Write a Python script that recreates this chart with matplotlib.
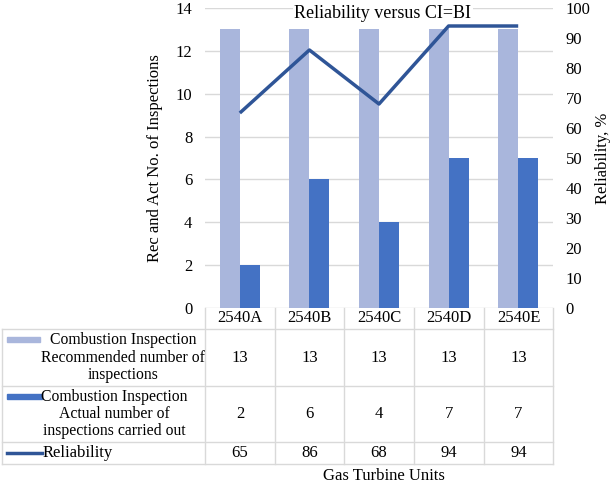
import matplotlib
matplotlib.use("Agg")
import matplotlib.pyplot as plt
from matplotlib.lines import Line2D
from matplotlib.patches import Rectangle

plt.rcParams['font.family'] = ['Liberation Serif', 'DejaVu Serif']

units = ["2540A", "2540B", "2540C", "2540D", "2540E"]
recommended = [13, 13, 13, 13, 13]
actual = [2, 6, 4, 7, 7]
reliability = [65, 86, 68, 94, 94]

row_labels = [
    "Combustion Inspection\nRecommended number of\ninspections",
    "Combustion Inspection\nActual number of\ninspections carried out",
    "Reliability",
]

c_light = "#A9B6DC"
c_dark = "#4472C4"
c_line = "#2F5597"
c_grid = "#D9D9D9"
fs = 12
fs_lab = 11.3

W, H = 612, 486
fig = plt.figure(figsize=(W / 100, H / 100), dpi=100)


def fx(x):
    return x / W


def fy(y):
    return 1 - y / H


L, R, T, B = 205, 553, 8, 308
ax = fig.add_axes([fx(L), fy(B), fx(R) - fx(L), fy(T) - fy(B)])
ax2 = ax.twinx()

xs = list(range(len(units)))
bw = 0.287
ax.bar([x - bw / 2 for x in xs], recommended, width=bw, color=c_light, zorder=2)
ax.bar([x + bw / 2 for x in xs], actual, width=bw, color=c_dark, zorder=2)
ax2.plot(xs, reliability, color=c_line, lw=2.5, solid_capstyle='butt', zorder=3)

ax.set_xlim(-0.5, len(units) - 0.5)
ax.set_ylim(0, 14)
ax.set_yticks(range(0, 15, 2))
ax2.set_ylim(0, 100)
ax2.set_yticks(range(0, 101, 10))
ax.set_xticks([])
ax.grid(axis='y', color=c_grid, lw=1, zorder=0)
ax.set_axisbelow(True)
for a in (ax, ax2):
    for s in a.spines.values():
        s.set_visible(False)
    a.tick_params(length=0, labelsize=fs, colors='black')
ax.tick_params(axis='y', pad=9)
ax2.tick_params(axis='y', pad=9)

fig.text(fx(155), fy((T + B) / 2), "Rec and Act No. of Inspections", rotation=90,
         ha='center', va='center', fontsize=fs)
fig.text(fx(603), fy((T + B) / 2), "Reliability, %", rotation=90,
         ha='center', va='center', fontsize=fs)

fig.text(fx((L + R) / 2 + 4), fy(13), "Reliability versus CI=BI", ha='center', va='center',
         fontsize=13, bbox=dict(facecolor='white', edgecolor='none', pad=1))

# table
cols = [205, 275, 344, 414, 484, 553]
rows = [308, 329, 386, 442, 464]


def hline(y, x0, x1):
    fig.add_artist(Line2D([fx(x0), fx(x1)], [fy(y), fy(y)], color=c_grid, lw=1))


def vline(x, y0, y1):
    fig.add_artist(Line2D([fx(x), fx(x)], [fy(y0), fy(y1)], color=c_grid, lw=1))


for y in rows[1:]:
    hline(y, 2, 553)
for x in cols:
    vline(x, 308, 464)
vline(2, 329, 464)

for i, u in enumerate(units):
    cx = (cols[i] + cols[i + 1]) / 2
    fig.text(fx(cx), fy((rows[0] + rows[1]) / 2), u, ha='center', va='center', fontsize=fs)
    for r, vals in enumerate([recommended, actual, reliability]):
        cy = (rows[r + 1] + rows[r + 2]) / 2
        fig.text(fx(cx), fy(cy), str(vals[i]), ha='center', va='center', fontsize=fs)

# legend keys and row labels
fig.add_artist(Rectangle((fx(7), fy(342)), fx(40) - fx(7), fy(337) - fy(342), color=c_light,
                         transform=fig.transFigure))
fig.text(fx(123), fy((rows[1] + rows[2]) / 2), row_labels[0], ha='center', va='center',
         fontsize=fs_lab, linespacing=1.12, multialignment='center')
fig.add_artist(Rectangle((fx(7), fy(399)), fx(42) - fx(7), fy(394) - fy(399), color=c_dark,
                         transform=fig.transFigure))
fig.text(fx(114), fy((rows[2] + rows[3]) / 2), row_labels[1], ha='center', va='center',
         fontsize=fs_lab, linespacing=1.12, multialignment='center')
fig.add_artist(Line2D([fx(7), fx(42)], [fy(453), fy(453)], color=c_line, lw=2.5))
fig.text(fx(43), fy(453), row_labels[2], ha='left', va='center', fontsize=fs)

fig.text(fx(384), fy(476), "Gas Turbine Units", ha='center', va='center', fontsize=fs)

fig.savefig("out.png", dpi=100)
